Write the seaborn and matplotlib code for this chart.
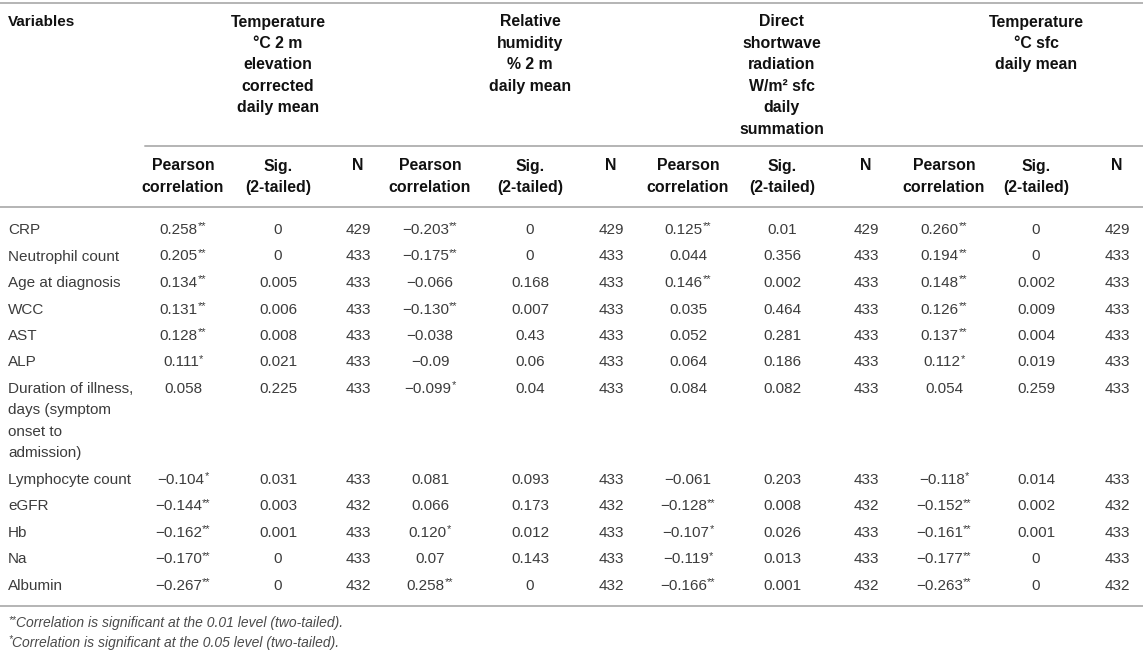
import matplotlib
matplotlib.use("Agg")
import matplotlib.pyplot as plt
import seaborn as sns

# Table data
variables = ["CRP", "Neutrophil count", "Age at diagnosis", "WCC", "AST", "ALP",
             "Duration of illness,\ndays (symptom\nonset to\nadmission)",
             "Lymphocyte count", "eGFR", "Hb", "Na", "Albumin"]

groups = ["Temperature\n°C 2 m\nelevation\ncorrected\ndaily mean",
          "Relative\nhumidity\n% 2 m\ndaily mean",
          "Direct\nshortwave\nradiation\nW/m² sfc\ndaily\nsummation",
          "Temperature\n°C sfc\ndaily mean"]
sub_headers = ["Pearson\ncorrelation", "Sig.\n(2-tailed)", "N"]

# pearson values kept as printed in the source table
temp2m_r = ["0.258", "0.205", "0.134", "0.131", "0.128", "0.111", "0.058",
            "-0.104", "-0.144", "-0.162", "-0.170", "-0.267"]
temp2m_star = ["**", "**", "**", "**", "**", "*", "", "*", "**", "**", "**", "**"]
temp2m_sig = [0, 0, 0.005, 0.006, 0.008, 0.021, 0.225, 0.031, 0.003, 0.001, 0, 0]
temp2m_n = [429, 433, 433, 433, 433, 433, 433, 433, 432, 433, 433, 432]

rh_r = ["-0.203", "-0.175", "-0.066", "-0.130", "-0.038", "-0.09", "-0.099",
        "0.081", "0.066", "0.120", "0.07", "0.258"]
rh_star = ["**", "**", "", "**", "", "", "*", "", "", "*", "", "**"]
rh_sig = [0, 0, 0.168, 0.007, 0.43, 0.06, 0.04, 0.093, 0.173, 0.012, 0.143, 0]
rh_n = [429, 433, 433, 433, 433, 433, 433, 433, 432, 433, 433, 432]

dsr_r = ["0.125", "0.044", "0.146", "0.035", "0.052", "0.064", "0.084",
         "-0.061", "-0.128", "-0.107", "-0.119", "-0.166"]
dsr_star = ["**", "", "**", "", "", "", "", "", "**", "*", "*", "**"]
dsr_sig = [0.01, 0.356, 0.002, 0.464, 0.281, 0.186, 0.082, 0.203, 0.008, 0.026, 0.013, 0.001]
dsr_n = [429, 433, 433, 433, 433, 433, 433, 433, 432, 433, 433, 432]

tsfc_r = ["0.260", "0.194", "0.148", "0.126", "0.137", "0.112", "0.054",
          "-0.118", "-0.152", "-0.161", "-0.177", "-0.263"]
tsfc_star = ["**", "**", "**", "**", "**", "*", "", "*", "**", "**", "**", "**"]
tsfc_sig = [0, 0, 0.002, 0.009, 0.004, 0.019, 0.259, 0.014, 0.002, 0.001, 0, 0]
tsfc_n = [429, 433, 433, 433, 433, 433, 433, 433, 432, 433, 433, 432]

footnote_stars = ["**", "*"]
footnotes = ["Correlation is significant at the 0.01 level (two-tailed).",
             "Correlation is significant at the 0.05 level (two-tailed)."]

blocks = [(temp2m_r, temp2m_star, temp2m_sig, temp2m_n),
          (rh_r, rh_star, rh_sig, rh_n),
          (dsr_r, dsr_star, dsr_sig, dsr_n),
          (tsfc_r, tsfc_star, tsfc_sig, tsfc_n)]


def fmt(v):
    s = f"{abs(v):.3f}".rstrip("0").rstrip(".")
    return ("\u2212" + s) if v < 0 else s


sns.set_theme(style="white")
plt.rcParams["font.family"] = ["Liberation Sans", "DejaVu Sans"]

W, H = 1143, 654
fig = plt.figure(figsize=(W / 100, H / 100), dpi=100)
ax = fig.add_axes([0, 0, 1, 1])
ax.set_xlim(0, W)
ax.set_ylim(H, 0)
ax.axis("off")
renderer = fig.canvas.get_renderer()

body = "#3c3c3c"
head = "#111111"
rule = "#b4b4b4"
fs = 11

# column centres (pixels)
col_x = [183, 278, 358, 430, 530, 611, 688, 782, 866, 944, 1036, 1117]
line_h = 21.4
row_h = 26.5


def with_stars(x, y, text, star, size, align="center", **kw):
    t = ax.text(x, y, text, ha="left", va="center", fontsize=size, **kw)
    if not star:
        if align == "center":
            t.set_ha("center")
        return
    s = ax.text(x, y - size * 0.32, star, ha="left", va="center", fontsize=size * 0.72, **kw)
    w1 = t.get_window_extent(renderer).width
    w2 = s.get_window_extent(renderer).width
    if align == "center":
        x0 = x - (w1 + w2) / 2
        t.set_x(x0)
        s.set_x(x0 + w1)
    else:
        s.set_x(x)
        t.set_x(x + w2)


# rules
ax.plot([0, W], [3, 3], color=rule, lw=1.4)
ax.plot([145, W], [146, 146], color=rule, lw=1.4)
ax.plot([0, W], [207, 207], color=rule, lw=1.4)
ax.plot([0, W], [606, 606], color=rule, lw=1.4)

# header
ax.text(8, 22, "Variables", ha="left", va="center", fontsize=fs, fontweight="bold", color=head)
for g, label in enumerate(groups):
    for i, ln in enumerate(label.split("\n")):
        ax.text(col_x[g * 3 + 1], 22 + i * line_h, ln, ha="center", va="center",
                fontsize=11.4, fontweight="bold", color=head)
    for k, sh in enumerate(sub_headers):
        for i, ln in enumerate(sh.split("\n")):
            ax.text(col_x[g * 3 + k], 166 + i * line_h, ln, ha="center", va="center",
                    fontsize=11.4, fontweight="bold", color=head)

# body rows
y = 230
for r, var in enumerate(variables):
    lines = var.split("\n")
    for i, ln in enumerate(lines):
        ax.text(8, y + i * line_h, ln, ha="left", va="center", fontsize=fs, color=body)
    for g, (rv, st, sg, nn) in enumerate(blocks):
        with_stars(col_x[g * 3], y, rv[r].replace("-", "\u2212"), st[r], fs, color=body)
        ax.text(col_x[g * 3 + 1], y, fmt(sg[r]), ha="center", va="center",
                fontsize=fs, color=body)
        ax.text(col_x[g * 3 + 2], y, str(nn[r]), ha="center", va="center",
                fontsize=fs, color=body)
    y += row_h + (len(lines) - 1) * line_h

# footnotes
for i, fn in enumerate(footnotes):
    with_stars(8, 623 + i * 19.5, fn, footnote_stars[i], 10, align="left",
               style="italic", color="#4a4a4a")

fig.savefig("out.png", dpi=100)
